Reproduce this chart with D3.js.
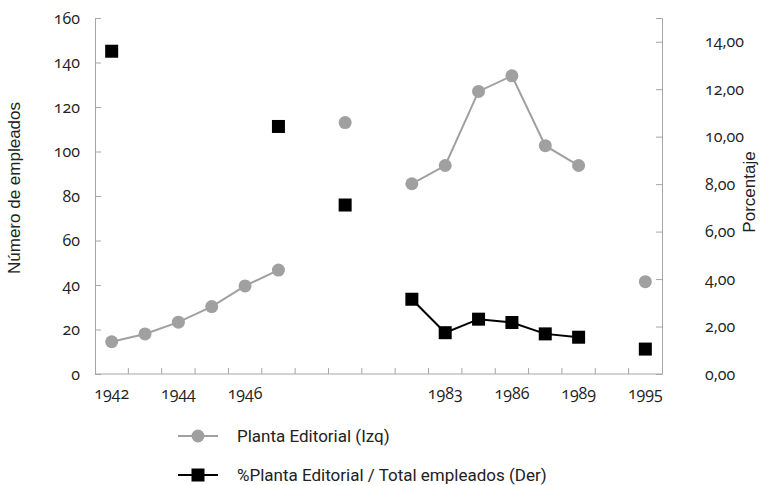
<!DOCTYPE html>
<html>
<head>
<meta charset="utf-8">
<script src="https://cdn.jsdelivr.net/npm/d3@7"></script>
<style>
  body { margin: 0; background: #fff; }
  .tick text { font-family: "Open Sans", sans-serif; font-variant-numeric: oldstyle-nums; font-feature-settings: "onum"; fill: #222; }
  .lbl { font-family: Roboto, "Liberation Sans", sans-serif; fill: #222; }
  .ttl { font-family: "Liberation Sans", Arial, sans-serif; fill: #222; }
</style>
</head>
<body>
<div class="content"></div>
<script>

// 17 category slots along the x axis, only some of them labelled
var slots = d3.range(17);
var slotLabels = ["1942", "", "1944", "", "1946", "", "", "", "", "", "1983", "", "1986", "", "1989", "", "1995"];

// Planta Editorial (left axis), null = no value
var planta = [14.5, 18, 23.3, 30.3, 39.6, 46.7, null, 113, null, 85.5, 93.7, 127, 134, 102.6, 93.7, null, 41.5];
// %Planta Editorial / Total empleados (right axis)
var pct = [13.6, null, null, null, null, 10.43, null, 7.12, null, 3.15, 1.74, 2.31, 2.17, 1.69, 1.55, null, 1.05];

var leftTicks = [0, 20, 40, 60, 80, 100, 120, 140, 160];
var rightTicks = [0, 2, 4, 6, 8, 10, 12, 14];

var W = 761, H = 485;
var m = {left: 95, right: 99, top: 18, bottom: 111};

var svg = d3.select(".content").append("svg")
   .attr("width", W)
   .attr("height", H);

var x = d3.scaleBand().domain(slots).range([m.left, W - m.right]);
var yL = d3.scaleLinear().domain([0, 160]).range([H - m.bottom, m.top]);
var yR = d3.scaleLinear().domain([0, 15]).range([H - m.bottom, m.top]);

var axisColor = "#a6a6a6";
var comma = function(d){ return d3.format(".2f")(d).replace(".", ","); };

// x axis: ticks between the slots, pointing inward
var xAxis = svg.append("g")
   .attr("transform", "translate(0," + (H - m.bottom) + ")");
xAxis.append("line")
   .attr("x1", m.left).attr("x2", W - m.right)
   .attr("stroke", axisColor);
slots.slice(1).forEach(function(i){
   xAxis.append("line")
      .attr("x1", x(i)).attr("x2", x(i))
      .attr("y1", 0).attr("y2", -6)
      .attr("stroke", axisColor);
});
var xLab = xAxis.append("g").attr("class", "tick");
slots.forEach(function(i){
   if (slotLabels[i] == "") return;
   xLab.append("text")
      .attr("x", x(i) + x.bandwidth() / 2)
      .attr("y", 25)
      .attr("text-anchor", "middle")
      .attr("font-size", "16px")
      .text(slotLabels[i]);
});

// left axis
svg.append("g")
   .attr("transform", "translate(" + m.left + ",0)")
   .call(d3.axisLeft(yL).tickValues(leftTicks).tickSize(-6).tickPadding(15))
   .call(function(g){
      g.selectAll("path, line").attr("stroke", axisColor);
      g.selectAll("text").attr("font-size", "16px");
   });

// right axis
svg.append("g")
   .attr("transform", "translate(" + (W - m.right) + ",0)")
   .call(d3.axisRight(yR).tickValues(rightTicks).tickFormat(comma).tickSize(-6).tickPadding(43))
   .call(function(g){
      g.selectAll("path, line").attr("stroke", axisColor);
      g.selectAll("text").attr("font-size", "16px");
   });

// axis titles
svg.append("text")
   .attr("class", "ttl")
   .attr("transform", "translate(20,188) rotate(-90)")
   .attr("text-anchor", "middle")
   .attr("font-size", "17px")
   .text("Número de empleados");

svg.append("text")
   .attr("class", "ttl")
   .attr("transform", "translate(755,192) rotate(-90)")
   .attr("text-anchor", "middle")
   .attr("font-size", "17px")
   .text("Porcentaje");

var cx = function(i){ return x(i) + x.bandwidth() / 2; };

// planta editorial series
var lineL = d3.line()
   .defined(function(d){ return d != null; })
   .x(function(d, i){ return cx(i); })
   .y(function(d){ return yL(d); });

svg.append("path")
   .attr("d", lineL(planta))
   .attr("fill", "none")
   .attr("stroke", "#a0a0a0")
   .attr("stroke-width", 2);

svg.selectAll("circle.planta")
   .data(slots.filter(function(i){ return planta[i] != null; }))
   .enter().append("circle")
   .attr("class", "planta")
   .attr("cx", function(i){ return cx(i); })
   .attr("cy", function(i){ return yL(planta[i]); })
   .attr("r", 6.5)
   .attr("fill", "#a0a0a0");

// percentage series
var lineR = d3.line()
   .defined(function(d){ return d != null; })
   .x(function(d, i){ return cx(i); })
   .y(function(d){ return yR(d); });

svg.append("path")
   .attr("d", lineR(pct))
   .attr("fill", "none")
   .attr("stroke", "#000")
   .attr("stroke-width", 2);

var sq = 13;
svg.selectAll("rect.pct")
   .data(slots.filter(function(i){ return pct[i] != null; }))
   .enter().append("rect")
   .attr("class", "pct")
   .attr("x", function(i){ return cx(i) - sq / 2; })
   .attr("y", function(i){ return yR(pct[i]) - sq / 2; })
   .attr("width", sq)
   .attr("height", sq)
   .attr("fill", "#000");

// legend
var lg = svg.append("g");
lg.append("line").attr("x1", 178).attr("x2", 218).attr("y1", 436).attr("y2", 436)
   .attr("stroke", "#a0a0a0").attr("stroke-width", 2);
lg.append("circle").attr("cx", 198).attr("cy", 436).attr("r", 6.5).attr("fill", "#a0a0a0");
lg.append("text").attr("class", "lbl").attr("x", 237).attr("y", 442)
   .attr("font-size", "17px").text("Planta Editorial (Izq)");

lg.append("line").attr("x1", 178).attr("x2", 218).attr("y1", 475).attr("y2", 475)
   .attr("stroke", "#000").attr("stroke-width", 2);
lg.append("rect").attr("x", 198 - sq / 2).attr("y", 475 - sq / 2).attr("width", sq).attr("height", sq).attr("fill", "#000");
lg.append("text").attr("class", "lbl").attr("x", 237).attr("y", 481)
   .attr("font-size", "17px").text("%Planta Editorial / Total empleados (Der)");

</script>
</body>
</html>
